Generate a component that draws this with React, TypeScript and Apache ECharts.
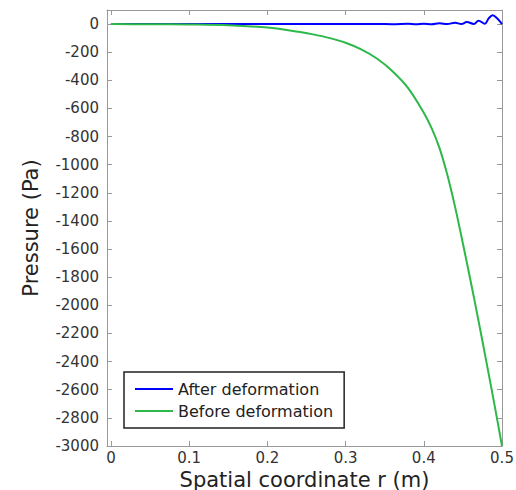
import React, { useEffect, useRef } from 'react';
import * as echarts from 'echarts';

// Spatial coordinate r (m) and pressure (Pa)
const rBefore = [0, 0.05, 0.1, 0.15, 0.2, 0.24, 0.26, 0.28, 0.3, 0.32, 0.34, 0.36, 0.38, 0.4, 0.41, 0.42, 0.43, 0.44, 0.45, 0.46, 0.47, 0.48, 0.49, 0.5];
const pBefore = [0, -1, -3, -8, -25, -55, -75, -100, -133, -180, -245, -335, -455, -630, -740, -880, -1070, -1300, -1560, -1830, -2110, -2400, -2695, -3000];

const rAfter = [0, 0.1, 0.2, 0.3, 0.34, 0.36, 0.38, 0.39, 0.4, 0.41, 0.42, 0.43, 0.44, 0.448, 0.455, 0.464, 0.47, 0.478, 0.483, 0.488, 0.494, 0.5];
const pAfter = [0, 0, 0, 0, 1, -1, 2, -1, 3, -1, 6, 0, 10, 0, 14, 1, 24, 2, 40, 62, 40, 0];

const xTicks = [0, 0.1, 0.2, 0.3, 0.4, 0.5];
const yTicks = [-3000, -2800, -2600, -2400, -2200, -2000, -1800, -1600, -1400, -1200, -1000, -800, -600, -400, -200, 0];

const seriesNames = ['After deformation', 'Before deformation'];

export default function App() {
  const ref = useRef<HTMLDivElement>(null);
  useEffect(() => {
    if (!ref.current) return;
    const chart = echarts.init(ref.current, null, { renderer: 'svg' });
    const font = 'DejaVu Sans';
    const frame = '#999999';
    const baseX = {
      type: 'value',
      min: -0.005,
      max: 0.5,
      splitLine: { show: false },
      axisLine: { show: true, onZero: false, lineStyle: { color: frame, width: 1 } },
      axisTick: { show: true, inside: true, length: 5, customValues: xTicks, lineStyle: { color: frame } },
    };
    const baseY = {
      type: 'value',
      min: -3000,
      max: 100,
      splitLine: { show: false },
      axisLine: { show: true, onZero: false, lineStyle: { color: frame, width: 1 } },
      axisTick: { show: true, inside: true, length: 5, customValues: yTicks, lineStyle: { color: frame } },
    };
    chart.setOption({
      animation: false,
      backgroundColor: '#ffffff',
      grid: { left: 107, right: 14, top: 10, bottom: 44, outerBoundsMode: 'none', containLabel: false },
      legend: {
        data: seriesNames,
        orient: 'vertical',
        left: 124,
        top: 372,
        padding: [9, 11, 9, 11],
        itemGap: 6,
        itemWidth: 38,
        itemHeight: 2,
        icon: 'rect',
        borderColor: '#222222',
        borderWidth: 1.5,
        backgroundColor: '#ffffff',
        textStyle: { fontFamily: font, fontSize: 16, color: '#222222' },
      },
      xAxis: [
        {
          ...baseX,
          position: 'bottom',
          name: 'Spatial coordinate r (m)',
          nameLocation: 'middle',
          nameGap: 23,
          nameMoveOverlap: false,
          nameTextStyle: { fontFamily: font, fontSize: 21, lineHeight: 21, color: '#222222' },
          axisLabel: {
            show: true,
            customValues: xTicks,
            margin: 5,
            fontFamily: font,
            fontSize: 15,
            lineHeight: 14,
            color: '#333333',
            formatter: (v: number) => String(v),
          },
        },
        {
          ...baseX,
          position: 'top',
          axisLabel: { show: false },
        },
      ],
      yAxis: [
        {
          ...baseY,
          position: 'left',
          name: 'Pressure (Pa)',
          nameLocation: 'middle',
          nameGap: 66,
          nameMoveOverlap: false,
          nameTextStyle: { fontFamily: font, fontSize: 21, color: '#222222' },
          axisLabel: {
            show: true,
            customValues: yTicks,
            margin: 8,
            fontFamily: font,
            fontSize: 15,
            color: '#333333',
            formatter: (v: number) => String(v),
          },
        },
        {
          ...baseY,
          position: 'right',
          axisLabel: { show: false },
        },
      ],
      series: [
        {
          name: seriesNames[0],
          type: 'line',
          xAxisIndex: 0,
          yAxisIndex: 0,
          showSymbol: false,
          smooth: 0.4,
          lineStyle: { color: '#0000ff', width: 2 },
          itemStyle: { color: '#0000ff' },
          data: rAfter.map((r, i) => [r, pAfter[i]]),
          z: 2,
        },
        {
          name: seriesNames[1],
          type: 'line',
          xAxisIndex: 0,
          yAxisIndex: 0,
          showSymbol: false,
          smooth: 0.3,
          lineStyle: { color: '#2db84a', width: 2 },
          itemStyle: { color: '#2db84a' },
          data: rBefore.map((r, i) => [r, pBefore[i]]),
          z: 3,
        },
      ],
    });
    return () => chart.dispose();
  }, []);
  return (
    <div
      ref={ref}
      style={{ position: 'absolute', left: 0, top: 0, width: 516, height: 490, background: '#fff' }}
    />
  );
}
